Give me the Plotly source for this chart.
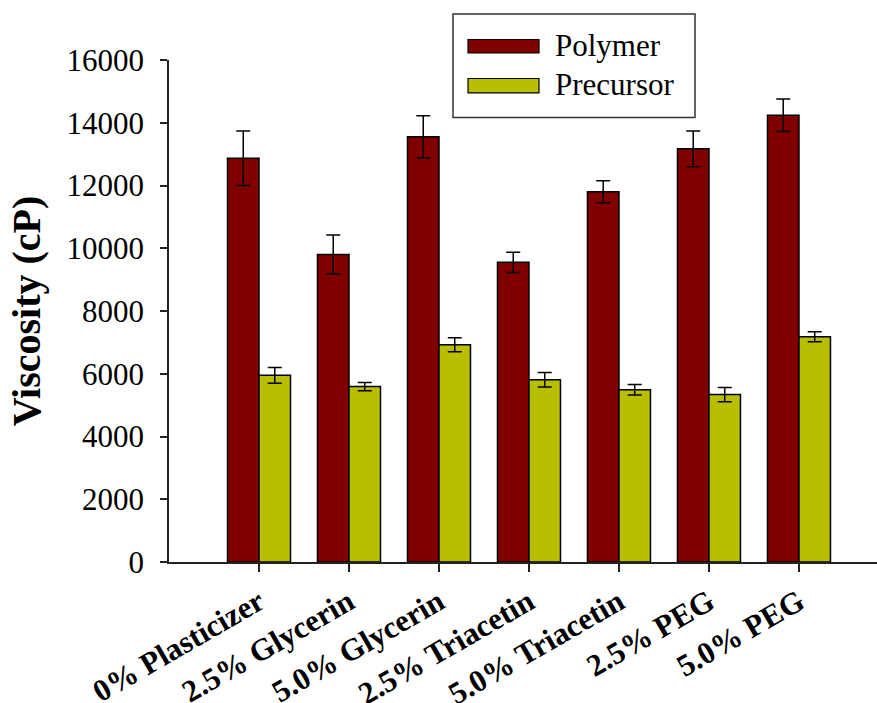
import plotly.graph_objects as go

# Formulations and measured viscosities (cP), mean and standard deviation
formulations = ["0% Plasticizer", "2.5% Glycerin", "5.0% Glycerin", "2.5% Triacetin",
                "5.0% Triacetin", "2.5% PEG", "5.0% PEG"]
polymer_mean = [12870, 9800, 13550, 9550, 11800, 13170, 14240]
polymer_sd = [870, 620, 670, 320, 350, 570, 520]
precursor_mean = [5950, 5590, 6925, 5810, 5490, 5335, 7180]
precursor_sd = [250, 130, 220, 230, 170, 230, 160]
y_ticks = [0, 2000, 4000, 6000, 8000, 10000, 12000, 14000, 16000]

POLY_COLOR = "#800000"
PREC_COLOR = "#b8bf00"
FONT = "Times New Roman, Liberation Serif, DejaVu Serif, serif"

W, H = 877, 703
ML, MR, MT, MB = 169, 0, 60, 140.5

x_idx = list(range(len(formulations)))

fig = go.Figure()
fig.add_trace(go.Bar(
    name="Polymer", x=x_idx, y=polymer_mean,
    marker=dict(color=POLY_COLOR, line=dict(color="black", width=1.5)),
    error_y=dict(type="data", array=polymer_sd, color="black", thickness=1.5, width=7),
    showlegend=False,
))
fig.add_trace(go.Bar(
    name="Precursor", x=x_idx, y=precursor_mean,
    marker=dict(color=PREC_COLOR, line=dict(color="black", width=1.5)),
    error_y=dict(type="data", array=precursor_sd, color="black", thickness=1.5, width=7),
    showlegend=False,
))

# Legend box drawn in pixel positions converted to paper fractions
pw, ph = W - ML - MR, H - MT - MB
def px(xp):
    return (xp - ML) / pw
def py(yp):
    return (H - MB - yp) / ph

shapes = [
    dict(type="rect", xref="paper", yref="paper", x0=px(453), x1=px(695), y0=py(117.5), y1=py(14),
         line=dict(color="#333333", width=1.5), fillcolor="white", layer="above"),
    dict(type="rect", xref="paper", yref="paper", x0=px(468), x1=px(539), y0=py(53), y1=py(39.5),
         line=dict(color="black", width=1.2), fillcolor=POLY_COLOR, layer="above"),
    dict(type="rect", xref="paper", yref="paper", x0=px(468), x1=px(539), y0=py(93), y1=py(78.5),
         line=dict(color="black", width=1.2), fillcolor=PREC_COLOR, layer="above"),
]
annotations = [
    dict(xref="paper", yref="paper", x=px(553), y=py(45), text="Polymer", showarrow=False,
         xanchor="left", yanchor="middle", font=dict(family=FONT, size=31, color="black")),
    dict(xref="paper", yref="paper", x=px(553), y=py(85), text="Precursor", showarrow=False,
         xanchor="left", yanchor="middle", font=dict(family=FONT, size=31, color="black")),
]

fig.update_layout(
    width=W, height=H,
    margin=dict(l=ML, r=MR, t=MT, b=MB),
    paper_bgcolor="white", plot_bgcolor="white",
    barmode="group", bargap=0.3, bargroupgap=0,
    font=dict(family=FONT, color="black"),
    shapes=shapes, annotations=annotations,
    xaxis=dict(
        range=[-1, 6.867], tickmode="array", tickvals=x_idx,
        ticktext=["<b>%s</b>" % f for f in formulations],
        tickangle=-30, tickfont=dict(family=FONT, size=31, color="black"),
        automargin=False,
        showline=True, linecolor="#222222", linewidth=1.5,
        ticks="outside", ticklen=8, tickwidth=1.5, tickcolor="#222222",
        showgrid=False, zeroline=False,
    ),
    yaxis=dict(
        range=[0, 16000], tickmode="array", tickvals=y_ticks,
        ticktext=[str(v) for v in y_ticks],
        tickfont=dict(family=FONT, size=31, color="black"),
        ticklabelstandoff=10, automargin=False,
        showline=True, linecolor="#222222", linewidth=1.5,
        ticks="outside", ticklen=7, tickwidth=1.5, tickcolor="#222222",
        showgrid=False, zeroline=False,
        title=dict(text="<b>Viscosity (cP)</b>", font=dict(family=FONT, size=40, color="black"),
                   standoff=14),
    ),
)

fig.write_html("out.html")
